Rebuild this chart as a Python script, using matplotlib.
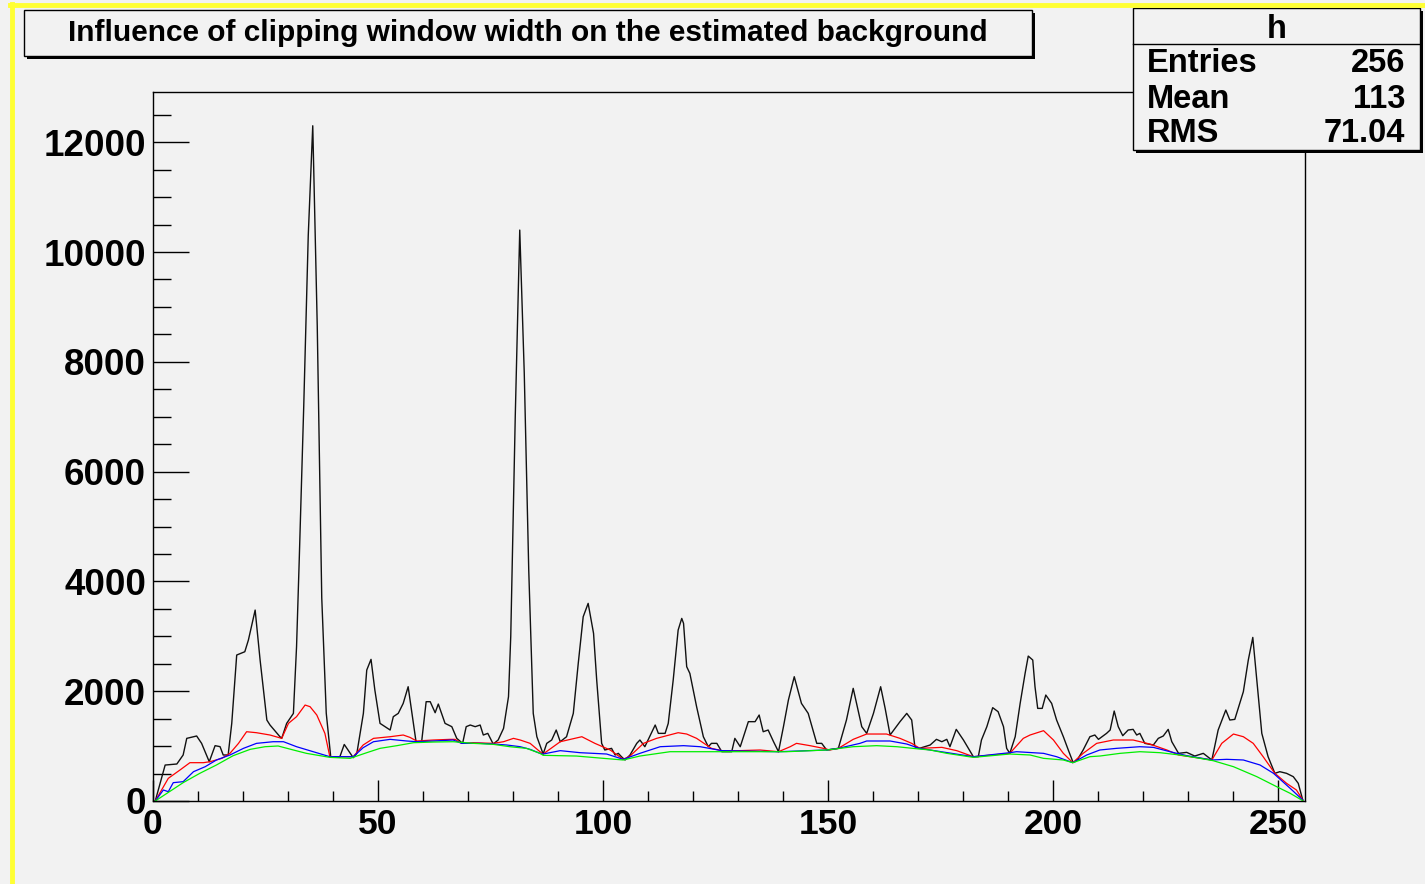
"""
Background estimation with different clipping windows (ROOT TSpectrum style plot).
"""
import numpy as np
import matplotlib
matplotlib.use("Agg")
import matplotlib.pyplot as plt
from matplotlib.patches import Rectangle
from matplotlib.lines import Line2D

W, H = 1425, 884
BG = "#f2f2f2"
FONT = "Liberation Sans"

title = "Influence of clipping window width on the estimated background"
stats_name = "h"
stats_rows = [("Entries", "256"), ("Mean", "113"), ("RMS", "71.04")]

# source spectrum (bin index, counts) read at the visible kinks
src_bin = [0, 2.2, 4.8, 6.2, 7.0, 9.2, 10.3, 12.0, 13.3, 14.4, 15.1, 16.2, 17.0, 18.1, 19.9,
           20.7, 22.2, 23.3, 24.8, 25.5, 27.7, 28.1, 29.2, 30.7, 31.4, 32.0, 33.0, 34.0, 35.0,
           36.0, 37.0, 38.0, 39.0, 41.0, 42.0, 44.0, 44.8, 46.25, 47.0, 47.95, 48.8, 49.95,
           52.2, 52.9, 54.0, 55.1, 56.2, 57.95, 59.2, 60.2, 61.1, 62.2, 62.9, 64.4, 65.9, 67.0,
           68.3, 69.1, 70.0, 71.1, 72.2, 72.9, 73.9, 75.1, 76.2, 77.4, 78.5, 79.0, 80.0, 81.0,
           82.0, 83.0, 84.0, 84.8, 86.2, 87.0, 88.1, 89.1, 90.0, 91.4, 92.9, 94.0, 95.1, 96.2,
           97.4, 98.1, 99.2, 99.9, 101.4, 102.2, 102.9, 103.6, 104.4, 105.5, 107.0, 107.7,
           108.8, 111.1, 111.8, 113.3, 114.0, 115.1, 116.2, 117.0, 117.4, 118.1, 118.8, 120.3,
           121.8, 122.9, 123.6, 124.8, 125.9, 128.1, 128.8, 130.0, 131.8, 133.3, 134.2, 135.1,
           136.2, 137.4, 138.5, 139.6, 140.7, 142.0, 143.6, 145.1, 147.0, 148.1, 149.2, 151.8,
           153.6, 155.1, 157.0, 158.1, 159.6, 161.2, 162.2, 163.3, 165.5, 167.0, 168.1, 168.8,
           169.8, 172.2, 173.6, 174.8, 175.9, 176.6, 178.0, 179.6, 180.7, 181.8, 182.9, 183.6,
           184.8, 186.1, 187.3, 188.5, 189.2, 189.9, 191.1, 192.2, 193.3, 194.0, 195.0, 195.5,
           196.1, 197.1, 197.9, 199.2, 200.3, 201.8, 202.9, 203.9, 204.4, 205.1, 206.2, 207.7,
           208.8, 209.6, 211.4, 212.2, 213.1, 214.0, 215.0, 216.2, 217.3, 218.1, 218.8, 219.9,
           221.8, 222.9, 224.0, 225.1, 225.9, 227.4, 229.2, 231.0, 232.9, 234.8, 236.2, 237.9,
           238.8, 239.9, 241.8, 242.9, 243.9, 244.8, 245.9, 247.3, 248.8, 249.9, 251.4, 252.9,
           254.0, 255.0]
src_val = [0, 655, 674, 838, 1141, 1184, 1050, 716, 1008, 990, 838, 838, 1414, 2659, 2719,
           2932, 3478, 2568, 1475, 1384, 1172, 1141, 1414, 1596, 2810, 4400, 7200, 10300, 12300,
           8650, 3700, 1600, 800, 800, 1030, 789, 868, 1596, 2385, 2580, 2021, 1414,
           1293, 1536, 1596, 1778, 2082, 1080, 1080, 1809, 1809, 1608, 1766, 1414, 1354, 1141,
           1050, 1354, 1384, 1354, 1384, 1202, 1232, 1038, 1111, 1323, 1900, 3000, 7000, 10400,
           7800, 4200, 1596, 1171, 856, 1050, 1111, 1293, 1080, 1171, 1596, 2507, 3357, 3600,
           3053, 2203, 1050, 929, 959, 838, 868, 807, 747, 838, 1050, 1111,
           989, 1384, 1232, 1232, 1414, 2203, 3114, 3326, 3235, 2446, 2325, 1718,
           1171, 989, 1050, 1050, 898, 898, 1141, 989, 1445, 1445, 1566, 1262,
           1293, 1080, 898, 1354, 1839, 2264, 1778, 1596, 1050, 1050, 929, 959,
           1475, 2052, 1354, 1232, 1596, 2082, 1687, 1202, 1445, 1596, 1475, 989,
           959, 1020, 1123, 1080, 1123, 989, 1305, 1111, 959, 807, 807, 1111,
           1354, 1700, 1627, 1354, 959, 868, 1171, 1778, 2325, 2640, 2568, 2082,
           1687, 1687, 1930, 1778, 1475, 1171, 929, 716, 716, 777, 929, 1171,
           1202, 1123, 1232, 1293, 1639, 1354, 1190, 1293, 1305, 1202, 1232, 1050,
           1020, 1141, 1184, 1305, 1080, 868, 886, 819, 868, 747, 1293, 1657,
           1475, 1487, 1991, 2568, 2980, 2203, 1232, 807, 504, 534, 504, 443,
           322, 18]

# background estimates, narrow -> wide clipping window
red_bin = [0, 2.9, 5.5, 7.7, 10.7, 12.2, 14.8, 16.6, 18.5, 20.3, 22.5, 25.5, 28.1, 29.6, 31.4,
           33.3, 34.4, 35.9, 37.7, 38.8, 44.0, 46.2, 48.5, 52.2, 55.1, 56.6, 58.1, 61.8, 65.5,
           66.6, 68.1, 70.7, 75.1, 77.4, 79.6, 81.1, 83.3, 85.5, 86.2, 90.0, 94.8, 97.7, 101.1,
           104.0, 105.5, 108.5, 111.4, 116.2, 118.1, 120.3, 123.6, 125.9, 129.6, 134.4, 138.5,
           141.1, 142.5, 145.5, 148.5, 149.9, 151.8, 155.1, 158.1, 162.5, 165.5, 168.1, 169.9,
           174.8, 178.1, 181.8, 189.9, 192.9, 194.4, 197.4, 199.6, 201.8, 203.9, 206.2, 209.2,
           212.9, 217.3, 221.0, 224.8, 227.4, 234.8, 237.0, 239.6, 241.8, 244.0, 246.2, 248.8,
           251.4, 253.6, 255.0]
red_val = [0, 413, 565, 698, 698, 716, 777, 868, 1050, 1262, 1244, 1202, 1141, 1414, 1536,
           1748, 1718, 1566, 1232, 807, 807, 1020, 1141, 1171, 1202, 1159, 1093, 1111, 1123,
           1123, 1050, 1062, 1050, 1080, 1141, 1111, 1050, 898, 856, 1080, 1171, 1050, 929,
           759, 819, 1050, 1141, 1244, 1220, 1141, 959, 917, 917, 929, 898,
           989, 1050, 1008, 959, 929, 959, 1123, 1220, 1220, 1141, 1050, 959,
           977, 917, 807, 868, 1141, 1202, 1281, 1111, 868, 698, 868, 1050,
           1111, 1111, 1038, 929, 838, 747, 1050, 1220, 1171, 1050, 807, 504,
           322, 200, 18]

blue_bin = [0, 1.8, 2.9, 4.0, 6.2, 8.5, 11.1, 13.6, 16.6, 19.6, 22.5, 26.2, 28.5, 31.4, 38.8,
            44.0, 46.2, 48.5, 52.2, 55.9, 58.1, 61.8, 66.2, 68.1, 72.2, 75.1, 78.1, 81.1, 83.3,
            85.5, 86.2, 90.0, 94.4, 100.3, 104.0, 107.7, 112.2, 117.4, 121.1, 125.9, 138.5,
            149.2, 151.8, 156.6, 158.1, 163.3, 167.0, 169.8, 172.2, 181.8, 189.9, 191.4, 197.4,
            200.3, 203.9, 207.0, 209.9, 213.6, 218.8, 221.8, 225.5, 229.2, 234.8, 238.1, 241.8,
            245.5, 248.5, 252.2, 255.0]
blue_val = [0, 200, 170, 334, 352, 534, 625, 747, 838, 959, 1050, 1080, 1080, 989, 807,
            807, 971, 1080, 1123, 1093, 1080, 1093, 1111, 1050, 1050, 1038, 1020, 989, 941,
            868, 856, 917, 880, 856, 759, 868, 989, 1008, 989, 917, 898,
            929, 959, 1050, 1093, 1093, 1038, 959, 929, 807, 880, 898, 868,
            807, 698, 838, 929, 959, 989, 977, 898, 826, 747, 759, 747,
            656, 504, 231, 18]

green_bin = [0, 6.2, 9.9, 13.6, 17.3, 21.1, 24.4, 27.3, 30.7, 33.6, 38.8, 43.3, 47.0, 49.95,
             53.7, 57.4, 61.8, 66.2, 70.7, 75.1, 78.8, 82.5, 85.5, 86.2, 93.6, 99.6, 104.0,
             107.7, 114.4, 120.3, 127.7, 132.9, 140.3, 149.2, 155.1, 160.3, 164.8, 169.8, 172.2,
             175.9, 181.8, 189.9, 194.4, 197.4, 201.8, 203.9, 207.7, 210.0, 214.4, 218.8, 223.3,
             227.7, 232.2, 235.1, 239.6, 244.8, 249.2, 252.2, 255.0]
green_val = [0, 334, 504, 656, 825, 941, 989, 1002, 929, 868, 795, 777, 880, 959,
             1008, 1062, 1074, 1080, 1050, 1032, 989, 959, 868, 832, 819, 777, 747,
             819, 898, 898, 898, 898, 898, 929, 989, 1008, 989, 947, 929,
             868, 795, 856, 838, 777, 747, 698, 807, 820, 868, 898, 880,
             838, 777, 734, 625, 443, 261, 140, 6]


def fx(x):
    return x / W


def fy(y):
    return 1 - y / H


def shadow_box(fig, x0, y0, x1, y1):
    # ROOT pave: black shadow to the lower right, then the box itself
    fig.add_artist(Rectangle((fx(x0 + 3), fy(y1 + 3)), fx(x1 - x0), (y1 - y0) / H,
                             transform=fig.transFigure, facecolor="black", edgecolor="none"))
    fig.add_artist(Rectangle((fx(x0), fy(y1)), fx(x1 - x0), (y1 - y0) / H,
                             transform=fig.transFigure, facecolor=BG, edgecolor="black", lw=1.0))


fig = plt.figure(figsize=(W / 100, H / 100), dpi=100, facecolor=BG)
plt.rcParams["font.family"] = [FONT, "DejaVu Sans"]

ax = fig.add_axes([fx(153), fy(801), fx(1305 - 153), (801 - 92) / H])
ax.set_facecolor(BG)

ax.plot(np.array(src_bin) + 0.5, src_val, color="#111111", lw=1.0)
ax.plot(np.array(red_bin) + 0.5, red_val, color="#ff0000", lw=0.9)
ax.plot(np.array(blue_bin) + 0.5, blue_val, color="#0000ff", lw=0.9)
ax.plot(np.array(green_bin) + 0.5, green_val, color="#00ee00", lw=0.9)

ax.set_xlim(0, 256)
ax.set_ylim(0, 12915)
ax.set_xticks(np.arange(0, 251, 50))
ax.set_xticks(np.arange(0, 256, 10), minor=True)
ax.set_yticks(np.arange(0, 12001, 2000))
ax.set_yticks(np.arange(0, 12901, 500), minor=True)
ax.tick_params(axis="x", which="major", direction="in", length=15, width=1, pad=5,
               labelsize=25.5, top=False)
ax.tick_params(axis="x", which="minor", direction="in", length=7.5, width=1, top=False)
ax.tick_params(axis="y", which="major", direction="in", length=26, width=1, pad=5,
               labelsize=26.5, right=False)
ax.tick_params(axis="y", which="minor", direction="in", length=13, width=1, right=False)
for lab in ax.get_xticklabels() + ax.get_yticklabels():
    lab.set_fontweight("bold")
for sp in ax.spines.values():
    sp.set_linewidth(1.0)

# yellow canvas frame (left and top only are visible)
fig.add_artist(Line2D([fx(12), fx(12)], [0, fy(4)], transform=fig.transFigure,
                      color="#ffff33", lw=3.5))
fig.add_artist(Line2D([fx(10), 1], [fy(5), fy(5)], transform=fig.transFigure,
                      color="#ffff33", lw=3.5))

# title pave
shadow_box(fig, 24, 10, 1032, 56)
fig.text(fx(528), fy(33), title, ha="center", va="center", fontsize=21.5, fontweight="bold")

# stats pave
shadow_box(fig, 1133, 8, 1420, 150)
fig.add_artist(Line2D([fx(1133), fx(1420)], [fy(44), fy(44)], transform=fig.transFigure,
                      color="black", lw=1.0))
fig.text(fx(1277), fy(29), stats_name, ha="center", va="center", fontsize=23.5, fontweight="bold")
for k, (name, val) in enumerate(stats_rows):
    yy = fy(64 + 35 * k)
    fig.text(fx(1147), yy, name, ha="left", va="center", fontsize=23.5, fontweight="bold")
    fig.text(fx(1405), yy, val, ha="right", va="center", fontsize=23.5, fontweight="bold")

fig.savefig("out.png", dpi=100, facecolor=BG)
